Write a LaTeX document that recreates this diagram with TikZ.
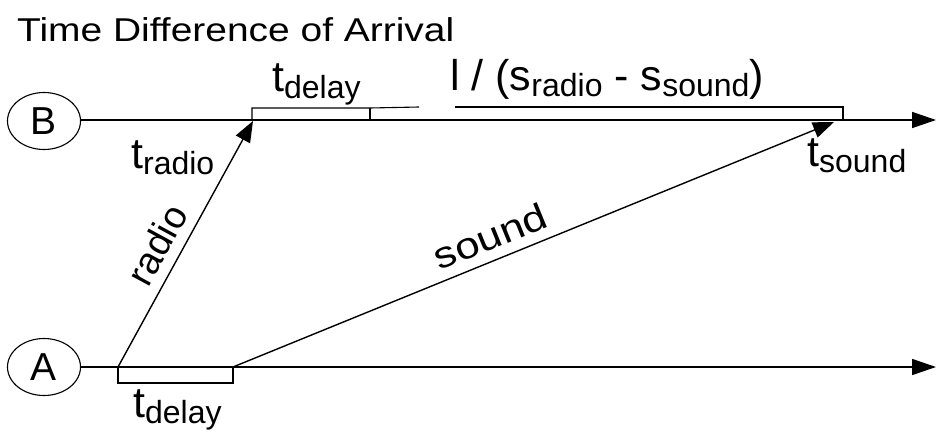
\documentclass[tikz,border=0pt]{standalone}
\usepackage{fontspec}
\setmainfont{Liberation Sans}
\newfontfamily\widefont[FakeStretch=1.18]{Liberation Sans}
\usetikzlibrary{shapes.geometric,arrows.meta}

\newcommand{\subtxt}[1]{\raisebox{-6pt}{\fontsize{32}{32}\selectfont #1}}

\tikzset{
  station/.style={draw,ellipse,line width=1.1pt,minimum width=73pt,minimum height=57pt,inner sep=0pt,font=\fontsize{39}{39}\selectfont},
  axis/.style={line width=1.6pt,-{Triangle[length=24pt,width=16pt]}},
  ray/.style={line width=1.4pt,-{Triangle[length=21pt,width=16pt]}},
  brace/.style={line width=1.1pt},
  tlabel/.style={inner sep=0pt,font=\fontsize{43}{43}\selectfont},
}

\begin{document}
\begin{tikzpicture}[x=1pt,y=-1pt]
\useasboundingbox (0,0) rectangle (950,436);

\node[anchor=base west,inner sep=0pt,font=\widefont\fontsize{33}{33}\selectfont] (title) at (17,42) {Time Difference of Arrival};

% the two stations
\node[station] (B) at (44,121) {B};
\node[station] (A) at (44,367) {A};

\coordinate (Bend) at (936,120);
\coordinate (Aend) at (936,367);

\draw[axis] (B.east |- Bend) -- (Bend);
\draw[axis] (A.east |- Aend) -- (Aend);

% radio and sound paths
\coordinate (r0) at (118,367);
\coordinate (r1) at (253,121);
\coordinate (s0) at (233,367);
\coordinate (s1) at (834,122);

\draw[ray] (r0) -- (r1);
\draw[ray] (s0) -- (s1);

\node[rotate=61.5,inner sep=0pt,font=\fontsize{38}{38}\selectfont] (radio) at (157,245) {radio};
\node[rotate=22.1,inner sep=0pt,font=\widefont\fontsize{37}{37}\selectfont] (sound) at (490,236) {sound};

% delay brackets
\draw[brace] (r0) -- ++(0,16) -| (s0);

\coordinate (d0) at (252,120);
\coordinate (d1) at (370,120);
\coordinate (d2) at (843,120);
\draw[brace] (d0) -- ++(0,-12) -- ++(118,0) -- (419,107);
\draw[brace] (d1) -- ++(0,-12);
\draw[brace] (455,107) -| (d2);

% labels
\node[tlabel,anchor=base west] (tradio) at (131,168) {t\subtxt{radio}};
\node[tlabel,anchor=base west] (tdelayB) at (272,92) {t\subtxt{delay}};
\node[tlabel,anchor=base west] (tdelayA) at (133,417) {t\subtxt{delay}};
\node[tlabel,anchor=base west] (tsound) at (807,166) {t\subtxt{sound}};
\node[tlabel,anchor=base west] (ratio) at (450,90) {l / (s\subtxt{radio} - s\subtxt{sound})};

\end{tikzpicture}
\end{document}
